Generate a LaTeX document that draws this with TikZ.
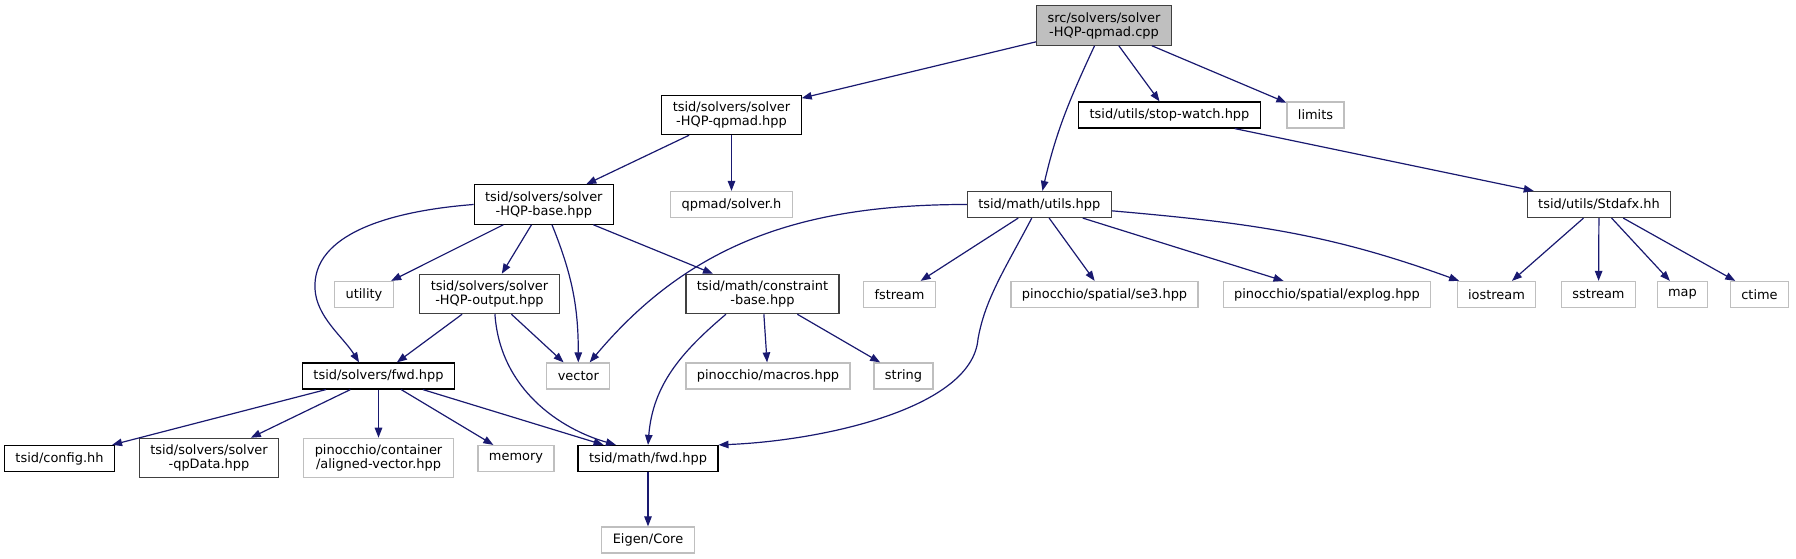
\documentclass[tikz,border=0pt]{standalone}
\usepackage{fontspec}
\setmainfont{DejaVu Sans}
\usetikzlibrary{arrows.meta}
\definecolor{edgeblue}{HTML}{191970}
\definecolor{extgray}{HTML}{BFBFBF}
\definecolor{docgray}{HTML}{404040}
\tikzset{
  hbox/.style={draw=black,line width=0.9pt,fill=white,inner xsep=8.2pt,inner ysep=4.8pt,
    minimum height=19.5pt,align=center,font=\fontsize{9.7}{10.5}\selectfont},
  dbox/.style={hbox,draw=docgray},
  sysbox/.style={hbox,draw=extgray},
  srcbox/.style={hbox,draw=docgray,fill=extgray},
  dep/.style={draw=edgeblue,line width=0.9pt,-{Triangle[length=7.5pt,width=5.6pt]}}
}

\begin{document}
\begin{tikzpicture}[x=0.75pt,y=0.75pt]
\useasboundingbox (0,0) rectangle (1796,559);
% top rows
\node[srcbox] (root) at (1104,533.5) {src/solvers/solver\\-HQP-qpmad.cpp};
\node[hbox] (qpmad) at (731.5,444) {tsid/solvers/solver\\-HQP-qpmad.hpp};
\node[hbox] (stopwatch) at (1169.5,444) {tsid/utils/stop-watch.hpp};
\node[sysbox] (limits) at (1315.5,444) {limits};
\node[hbox] (base) at (543.8,354.5) {tsid/solvers/solver\\-HQP-base.hpp};
\node[sysbox] (solverh) at (731.5,354.5) {qpmad/solver.h};
\node[dbox] (utils) at (1039.3,354.5) {tsid/math/utils.hpp};
\node[dbox] (stdafx) at (1599,354.5) {tsid/utils/Stdafx.hh};
% middle row
\node[sysbox] (utility) at (364,264.5) {utility};
\node[dbox] (output) at (489.5,265) {tsid/solvers/solver\\-HQP-output.hpp};
\node[dbox] (cbase) at (762.5,265) {tsid/math/constraint\\-base.hpp};
\node[sysbox] (fstream) at (899.5,264.5) {fstream};
\node[sysbox] (se3) at (1104.5,264.5) {pinocchio/spatial/se3.hpp};
\node[sysbox] (explog) at (1327,264.5) {pinocchio/spatial/explog.hpp};
\node[sysbox] (iostream) at (1496.5,264.5) {iostream};
\node[sysbox] (sstream) at (1598.5,264.5) {sstream};
\node[sysbox] (map) at (1682.5,264.5) {map};
\node[sysbox] (ctime) at (1759.5,264.5) {ctime};
\node[hbox] (sfwd) at (378.5,183) {tsid/solvers/fwd.hpp};
\node[sysbox] (vector) at (578.3,183) {vector};
\node[sysbox] (macros) at (768,183) {pinocchio/macros.hpp};
\node[sysbox] (string) at (903.5,183) {string};
% bottom rows
\node[hbox] (config) at (59.5,100.5) {tsid/config.hh};
\node[dbox] (qpdata) at (209,101) {tsid/solvers/solver\\-qpData.hpp};
\node[sysbox] (aligned) at (378.5,101) {pinocchio/container\\/aligned-vector.hpp};
\node[sysbox] (memory) at (516,100.5) {memory};
\node[hbox] (mfwd) at (648,100.5) {tsid/math/fwd.hpp};
\node[sysbox] (eigen) at (648,19) {Eigen/Core};

% root file
\draw[dep] (root) -- (qpmad);
\draw[dep] (root) to[out=-115,in=77] (utils);
\draw[dep] (root) -- (stopwatch);
\draw[dep] (root) -- (limits);
\draw[dep] (qpmad) -- (base);
\draw[dep] (qpmad) -- (solverh);
\draw[dep] (stopwatch) -- (stdafx);
% solver-HQP-base
\draw[dep] (base.west) .. controls (390,348) and (312,325) .. (315,270)
  .. controls (316.5,242) and (343,222.2) .. (sfwd.145);
\draw[dep] (base) -- (utility);
\draw[dep] (base) -- (output);
\draw[dep] (base) to[out=-68,in=90] (vector);
\draw[dep] (base) -- (cbase);
% math/utils
\draw[dep] (utils) to[out=180,in=50] (vector);
\draw[dep] (utils) -- (fstream);
\draw[dep] (utils.-119) .. controls (1005,290) and (985,260) .. (978,220)
  .. controls (972,150) and (820,118) .. (mfwd.north east);
\draw[dep] (utils) -- (se3);
\draw[dep] (utils) -- (explog);
\draw[dep] (utils) to[out=-5,in=160] (iostream);
\foreach \dst in {iostream,sstream,map,ctime}
  \draw[dep] (stdafx) -- (\dst);
% solver-HQP-output
\draw[dep] (output) -- (sfwd);
\draw[dep] (output) -- (vector);
\draw[dep] (output.-75) .. controls (500,170) and (560,130) .. (mfwd.157);
% constraint-base
\draw[dep] (cbase.-151) .. controls (681.3,207) and (652.8,174) .. (mfwd.north);
\draw[dep] (cbase) -- (macros);
\draw[dep] (cbase) -- (string);
% solvers/fwd
\foreach \dst in {config,qpdata,aligned,memory,mfwd}
  \draw[dep] (sfwd) -- (\dst);
\draw[dep] (mfwd) -- (eigen);
\end{tikzpicture}
\end{document}
